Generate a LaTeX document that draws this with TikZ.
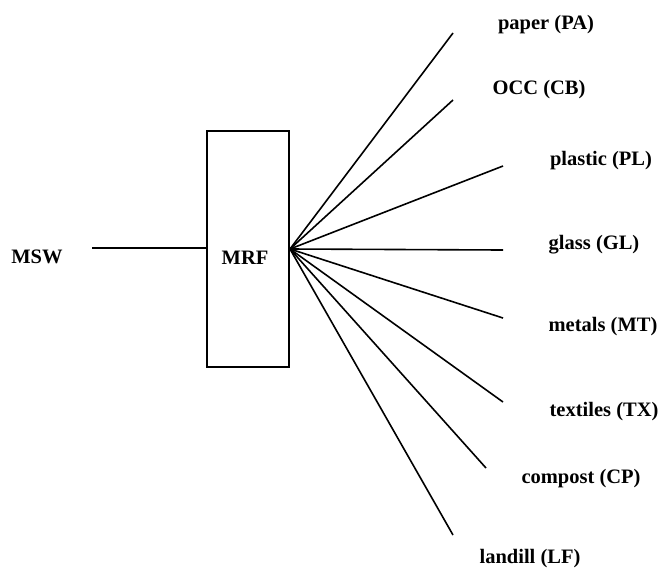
\documentclass[tikz,border=0pt]{standalone}
\usepackage{fontspec}
\setmainfont{Liberation Serif}
\begin{document}
\begin{tikzpicture}[x=1pt,y=-1pt,
  flow/.style={line width=1.6pt},
  lbl/.style={inner sep=0pt,text height=0.69em,text depth=0.18em,anchor=center,
              font=\fontsize{20.5}{24}\selectfont\bfseries},
  unit/.style={draw,line width=1.6pt,minimum width=82pt,minimum height=236pt,inner sep=0pt}]
\useasboundingbox (0,0) rectangle (663,571);

% source and sorting facility
\node[lbl] (msw) at (37,261) {MSW};
\coordinate (mswend) at (92,248);
\node[unit] (mrf) at (248,249) {};
\node[lbl] (mrflbl) at (245,262) {MRF};
\coordinate (hub) at (290,249);
\draw[flow] (mswend) -- (mrf.west |- mswend);

% output streams
\coordinate (pa) at (453,33);
\coordinate (cb) at (453,100);
\coordinate (pl) at (503,166);
\coordinate (gl) at (503,250);
\coordinate (mt) at (503,318);
\coordinate (tx) at (503,402);
\coordinate (cp) at (486,468);
\coordinate (lf) at (453,535);
\foreach \e in {pa,cb,pl,gl,mt,tx,cp,lf}
  \draw[flow] (hub) -- (\e);

\node[lbl] (papa) at (546,27) {paper (PA)};
\node[lbl] (pcb) at (539,92) {OCC (CB)};
\node[lbl] (ppl) at (601,163) {plastic (PL)};
\node[lbl] (pgl) at (594,247) {glass (GL)};
\node[lbl] (pmt) at (603,329) {metals (MT)};
\node[lbl] (ptx) at (604,414) {textiles (TX)};
\node[lbl] (pcp) at (581,481) {compost (CP)};
\node[lbl] (plf) at (530,561) {landill (LF)};
\end{tikzpicture}
\end{document}
